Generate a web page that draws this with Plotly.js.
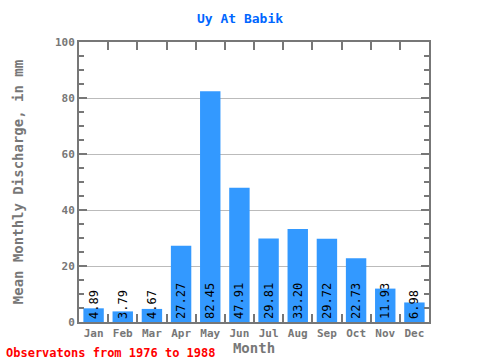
<!DOCTYPE html>
<html><head><meta charset="utf-8">
<script src="https://cdn.plot.ly/plotly-3.0.1.min.js"></script>
<style>html,body{margin:0;padding:0;background:#fff}</style>
</head><body><div id="c" style="width:480px;height:360px"></div>
<script>
const months = ["Jan","Feb","Mar","Apr","May","Jun","Jul","Aug","Sep","Oct","Nov","Dec"];
const discharge = [4.89,3.79,4.67,27.27,82.45,47.91,29.81,33.20,29.72,22.73,11.93,6.98];
const labels = discharge.map(v => v.toFixed(2));
const mono = "DejaVu Sans Mono, Liberation Mono, monospace";
const gray = "#777777";
Plotly.newPlot("c", [{
  type: "bar", x: months, y: discharge, text: labels,
  textposition: "inside", insidetextanchor: "start", textangle: -90,
  constraintext: "none", cliponaxis: false,
  textfont: {family: mono, size: 12, color: "#000"},
  marker: {color: "#3399ff", line: {width: 0}}, hoverinfo: "none"
}], {
  width: 480, height: 360,
  margin: {l: 79, r: 51, t: 42, b: 38},
  bargap: 0.3,
  paper_bgcolor: "#fff", plot_bgcolor: "#fff",
  showlegend: false,
  title: {text: "<b>Uy At Babik</b>", x: 0.5, xanchor: "center", y: 0.95, yanchor: "middle",
          font: {family: mono, size: 13, color: "#0066ff"}},
  xaxis: {
    tickson: "boundaries", ticks: "inside", ticklen: 8, tickwidth: 2, tickcolor: gray,
    showline: true, linecolor: gray, linewidth: 2, mirror: "ticks",
    showgrid: false, zeroline: false, tickangle: 0,
    tickfont: {family: mono, size: 11, color: gray, weight: "bold"},
    title: {text: "Month", standoff: 2, font: {family: mono, size: 14, color: gray, weight: "bold"}}
  },
  yaxis: {
    range: [0, 100], dtick: 20, ticks: "inside", ticklen: 8, tickwidth: 2, tickcolor: gray,
    minor: {dtick: 5, ticks: "inside", ticklen: 5, tickwidth: 2, tickcolor: gray, showgrid: false},
    showline: true, linecolor: gray, linewidth: 2, mirror: "ticks",
    showgrid: true, gridcolor: "#bbbbbb", gridwidth: 1, zeroline: false,
    tickfont: {family: mono, size: 11, color: gray, weight: "bold"},
    title: {text: "Mean Monthly Discharge, in mm", standoff: 28, font: {family: mono, size: 14, color: gray, weight: "bold"}}
  },
  annotations: [{
    text: "<b>Observatons from 1976 to 1988</b>", xref: "paper", yref: "paper",
    x: -75/350, y: -22/280, xanchor: "left", yanchor: "top", showarrow: false,
    font: {family: mono, size: 12, color: "#ff0000"}
  }]
}, {staticPlot: true});
</script></body></html>
